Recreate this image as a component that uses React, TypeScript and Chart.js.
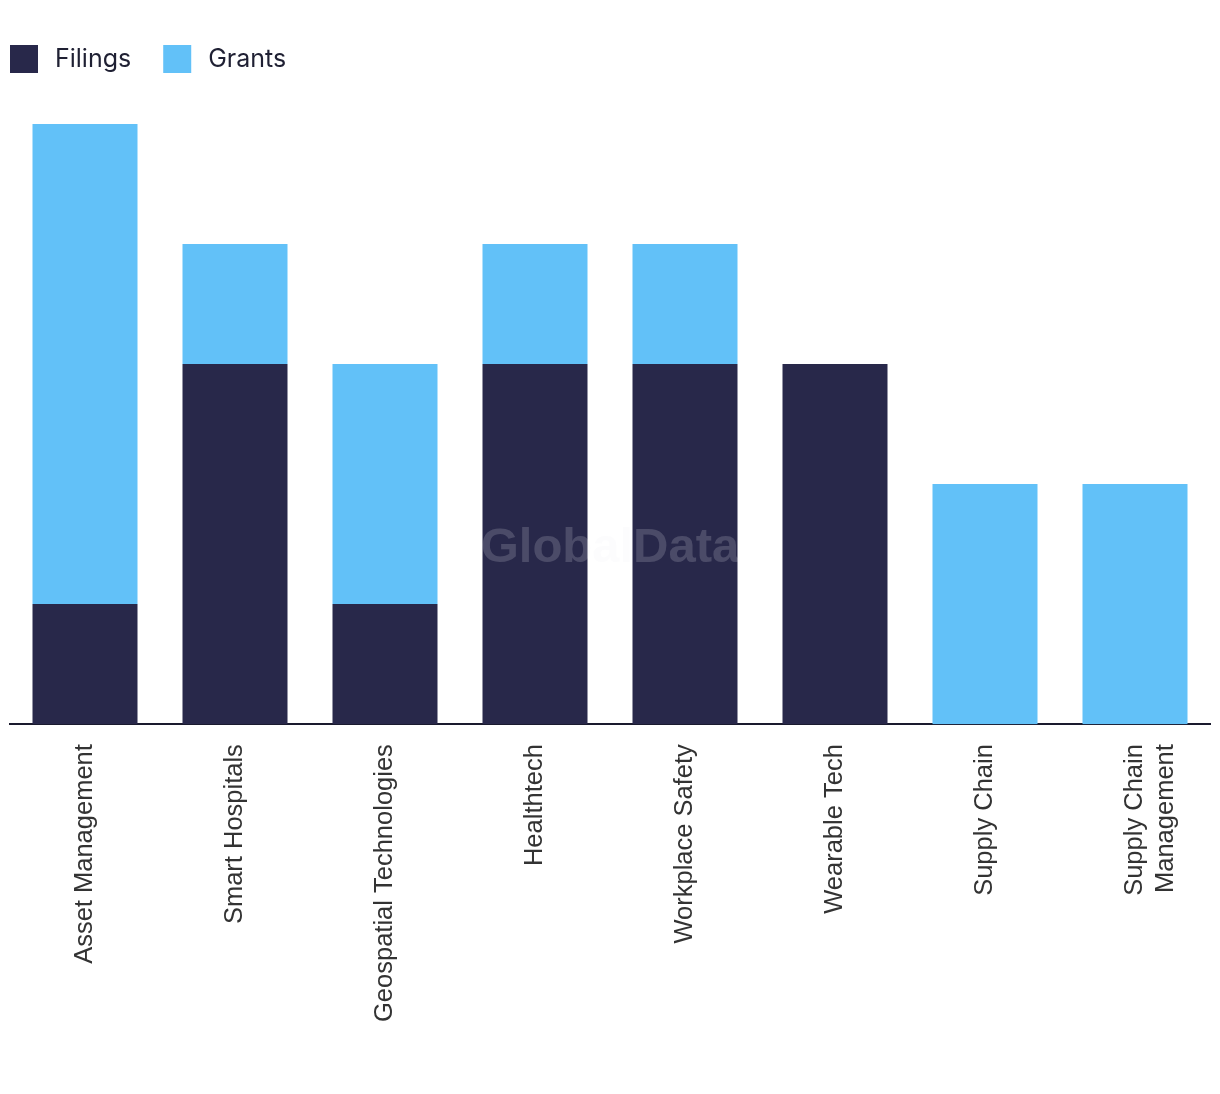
import React, { useEffect, useRef } from "react";
import { Chart, registerables } from "chart.js";

Chart.register(...registerables);

const categories: (string | string[])[] = [
  "Asset Management",
  "Smart Hospitals",
  "Geospatial Technologies",
  "Healthtech",
  "Workplace Safety",
  "Wearable Tech",
  "Supply Chain",
  ["Supply Chain", "Management"],
];
const filings = [1, 3, 1, 3, 3, 3, 0, 0];
const grants = [4, 1, 2, 1, 1, 0, 2, 2];
const yMax = 5;

const watermark = {
  id: "watermark",
  afterDatasetsDraw(chart: any) {
    const { ctx, chartArea } = chart;
    ctx.save();
    ctx.font = "bold 49px 'Liberation Sans', Arial, sans-serif";
    ctx.fillStyle = "rgba(240,240,242,0.18)";
    ctx.textAlign = "center";
    ctx.textBaseline = "middle";
    ctx.fillText("GlobalData", (chartArea.left + chartArea.right) / 2, 548);
    ctx.restore();
  },
};

// Legend drawn from the datasets' own labels and colours
const topLegend = {
  id: "topLegend",
  afterDraw(chart: any) {
    const { ctx } = chart;
    ctx.save();
    ctx.font = "25px Inter, 'Open Sans', sans-serif";
    ctx.textBaseline = "middle";
    ctx.textAlign = "left";
    let x = 10;
    const boxTop = 45;
    const box = 28;
    chart.data.datasets.forEach((ds: any) => {
      ctx.fillStyle = ds.backgroundColor;
      ctx.fillRect(x, boxTop, box, box);
      ctx.fillStyle = "#1f2033";
      const tx = x + box + 17;
      ctx.fillText(ds.label, tx, boxTop + box / 2);
      x = tx + ctx.measureText(ds.label).width + 32;
    });
    ctx.restore();
  },
};

export default function App() {
  const ref = useRef<HTMLCanvasElement>(null);
  useEffect(() => {
    document.body.style.margin = "0";
    const chart = new Chart(ref.current!, {
      type: "bar",
      data: {
        labels: categories,
        datasets: [
          { label: "Filings", data: filings, backgroundColor: "#28284a" },
          { label: "Grants", data: grants, backgroundColor: "#62c1f8" },
        ],
      },
      options: {
        responsive: false,
        animation: false,
        layout: { padding: { left: 10, right: 10, top: 124, bottom: 52 } },
        datasets: { bar: { barPercentage: 1, categoryPercentage: 0.7 } } as any,
        plugins: {
          tooltip: { enabled: false },
          legend: { display: false },
        },
        scales: {
          x: {
            stacked: true,
            grid: { display: false, drawTicks: false },
            border: { display: true, color: "#1a1a2e", width: 2 },
            ticks: {
              maxRotation: 90,
              minRotation: 90,
              padding: 20,
              color: "#333",
              font: { family: "'Liberation Sans', Arial, sans-serif", size: 25.5 },
            },
          },
          y: {
            stacked: true,
            display: false,
            min: 0,
            max: yMax,
          },
        },
      },
      plugins: [watermark, topLegend],
    });
    return () => chart.destroy();
  }, []);
  return (
    <div style={{ width: 1220, height: 1094 }}>
      <canvas ref={ref} width={1220} height={1094} />
    </div>
  );
}
